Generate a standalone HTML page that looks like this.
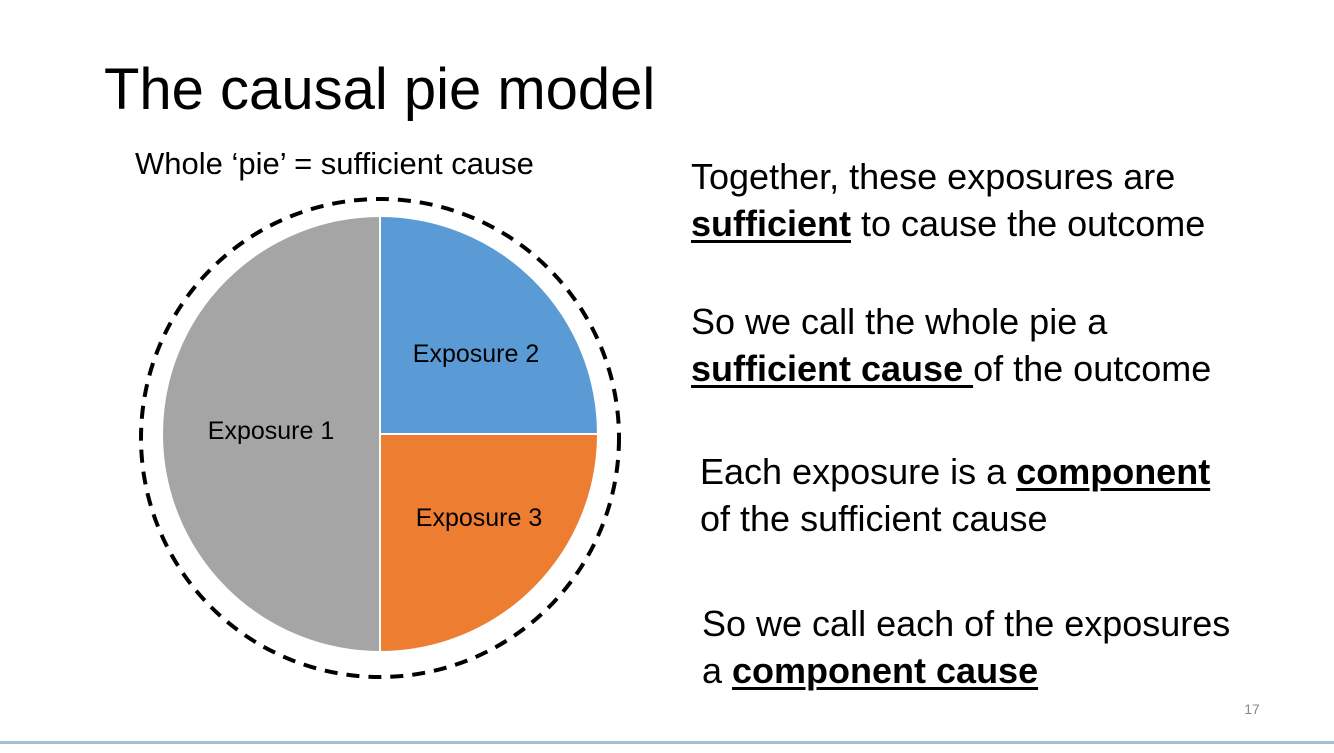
<!DOCTYPE html>
<html><head><style>
body{margin:0;width:1334px;height:753px;background:#fff;position:relative;overflow:hidden;font-family:"Liberation Sans",Arial,sans-serif;color:#000}
.t{position:absolute;white-space:nowrap}
b{text-decoration:underline;text-decoration-thickness:3px;text-underline-offset:4px}
</style></head><body>
<div class="t" style="left:104px;top:56px;font-size:58px">The causal pie model</div>
<div class="t" style="left:135px;top:146px;font-size:31px">Whole ‘pie’ = sufficient cause</div>
<svg style="position:absolute;left:0;top:0" width="1334" height="753">
<circle cx="380" cy="438" r="239" fill="none" stroke="#000" stroke-width="4" stroke-dasharray="13 9"/>
<path d="M380 434 L380 216 A218 218 0 0 0 380 652 Z" fill="#a5a5a5" stroke="#fff" stroke-width="2"/>
<path d="M380 434 L380 216 A218 218 0 0 1 598 434 Z" fill="#5b9bd5" stroke="#fff" stroke-width="2"/>
<path d="M380 434 L598 434 A218 218 0 0 1 380 652 Z" fill="#ed7d31" stroke="#fff" stroke-width="2"/>
<text x="271" y="439" font-size="25" text-anchor="middle" font-family="Liberation Sans,sans-serif">Exposure 1</text>
<text x="476" y="362" font-size="25" text-anchor="middle" font-family="Liberation Sans,sans-serif">Exposure 2</text>
<text x="479" y="526" font-size="25" text-anchor="middle" font-family="Liberation Sans,sans-serif">Exposure 3</text>
<rect x="0" y="741" width="1334" height="3" fill="#a9bcd6"/>
<text x="1252" y="714" font-size="14" fill="#888" text-anchor="middle" font-family="Liberation Sans,sans-serif">17</text>
</svg>
<div class="t" style="left:691px;top:153px;font-size:36px;line-height:47px">Together, these exposures are<br><b>sufficient</b> to cause the outcome</div>
<div class="t" style="left:691px;top:298px;font-size:36px;line-height:47px">So we call the whole pie a<br><b>sufficient cause </b>of the outcome</div>
<div class="t" style="left:700px;top:448px;font-size:36px;line-height:47px">Each exposure is a <b>component</b><br>of the sufficient cause</div>
<div class="t" style="left:702px;top:600px;font-size:36px;line-height:47px">So we call each of the exposures<br>a <b>component cause</b></div>
</body></html>
